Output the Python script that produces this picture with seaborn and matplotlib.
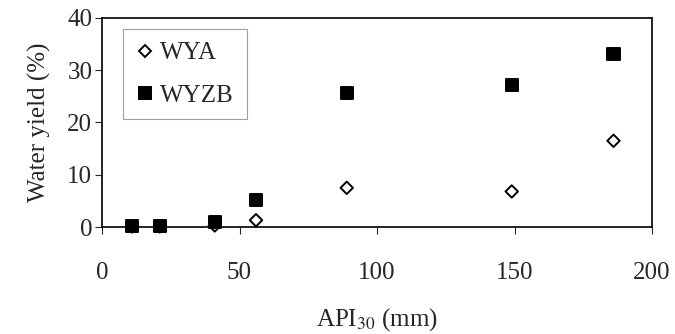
import numpy as np
import pandas as pd
import matplotlib
matplotlib.use("Agg")
import matplotlib.pyplot as plt
import seaborn as sns

# values
api30 = [11, 21, 41, 56, 89, 149, 186]
wya = [0.1, 0.1, 0.3, 1.3, 7.5, 6.8, 16.5]
wyzb = [0.2, 0.2, 1.0, 5.2, 25.7, 27.2, 33.1]

df = pd.DataFrame({
    "api": api30 * 2,
    "yield": wya + wyzb,
    "series": ["WYA"] * len(api30) + ["WYZB"] * len(api30),
})

sns.set_style("ticks")
plt.rcParams["font.family"] = ["Liberation Serif", "DejaVu Serif"]
plt.rcParams["mathtext.fontset"] = "stix"

fig = plt.figure(figsize=(6.75, 3.34), dpi=100)
ax = fig.add_axes([102 / 675, 1 - 227 / 334, 550 / 675, 209 / 334])

sns.scatterplot(data=df, x="api", y="yield", hue="series", style="series",
                markers={"WYA": "D", "WYZB": "s"},
                palette={"WYA": "white", "WYZB": "black"},
                edgecolor="black", linewidth=1.4, s=60, ax=ax, legend=True,
                clip_on=False, zorder=5)
pts = ax.collections[0]
pts.set_edgecolors("black")
pts.set_sizes(np.array([40] * len(api30) + [75] * len(api30)))

ax.set_xlim(0, 200)
ax.set_ylim(0, 40)
ax.set_xticks([0, 50, 100, 150, 200])
ax.set_yticks([0, 10, 20, 30, 40])
ax.tick_params(axis="x", direction="out", length=5, pad=20, labelsize=18)
ax.tick_params(axis="y", direction="out", length=5, pad=2, labelsize=18)
for s in ax.spines.values():
    s.set_visible(True)
    s.set_linewidth(1.2)
    s.set_color("black")

ax.set_xlabel("API$_{30}$ (mm)", fontsize=18, labelpad=16)
ax.set_ylabel("Water yield (%)", fontsize=18, labelpad=12)

h, l = ax.get_legend_handles_labels()
for hh, lab in zip(h, l):
    hh.set_markeredgecolor("black")
    hh.set_markeredgewidth(1.4)
    hh.set_markersize(6 if lab == "WYA" else 8)
leg = ax.legend(h, l, loc="upper left", bbox_to_anchor=(0.038, 0.945),
                fontsize=18, frameon=True, fancybox=False, handletextpad=0.2,
                handlelength=0.8, borderpad=0.5, labelspacing=0.8,
                borderaxespad=0)
leg.get_frame().set_edgecolor("#888888")
leg.get_frame().set_linewidth(0.8)

fig.savefig("out.png", dpi=100)
